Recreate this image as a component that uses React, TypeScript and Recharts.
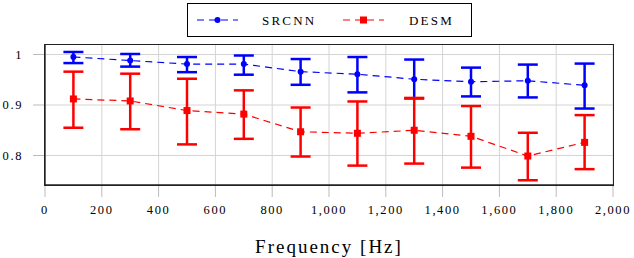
import {
    LineChart,
    Line,
    XAxis,
    YAxis,
    CartesianGrid,
    ErrorBar,
} from "recharts";

const freqs = [100, 300, 500, 700, 900, 1100, 1300, 1500, 1700, 1900];

const srcnn = [0.995, 0.988, 0.981, 0.981, 0.966, 0.961, 0.951, 0.946, 0.948, 0.939];
const srcnnHigh = [1.005, 1.001, 0.995, 0.998, 0.991, 0.995, 0.99, 0.974, 0.98, 0.982];
const srcnnLow = [0.983, 0.976, 0.965, 0.96, 0.94, 0.925, 0.913, 0.917, 0.915, 0.893];

const desm = [0.912, 0.908, 0.889, 0.882, 0.847, 0.844, 0.85, 0.838, 0.799, 0.826];
const desmHigh = [0.966, 0.962, 0.952, 0.929, 0.895, 0.907, 0.914, 0.898, 0.845, 0.88];
const desmLow = [0.855, 0.852, 0.822, 0.833, 0.798, 0.78, 0.784, 0.776, 0.751, 0.773];

const xTicks = [0, 200, 400, 600, 800, 1000, 1200, 1400, 1600, 1800, 2000];
const yTicks = [0.8, 0.9, 1];

const data = freqs.map((f, i) => ({
    freq: f,
    srcnn: srcnn[i],
    srErr: [srcnn[i] - srcnnLow[i], srcnnHigh[i] - srcnn[i]],
    desm: desm[i],
    deErr: [desm[i] - desmLow[i], desmHigh[i] - desm[i]],
}));

const font = '"Liberation Serif", "DejaVu Serif", serif';
const tickStyle = { fontSize: 12.5, fill: "#000", letterSpacing: 1.6 };

const Square = (props: any) => {
    const { cx, cy } = props;
    if (cx == null || cy == null) return null;
    return <rect x={cx - 3.5} y={cy - 3.5} width={7} height={7} fill="#ff0000" />;
};

const LegendBox = () => (
    <div
        style={{
            position: "absolute",
            left: 187,
            top: 3,
            width: 283,
            height: 32,
            border: "1px solid #000",
        }}
    >
        <svg width={283} height={32} style={{ position: "absolute", left: 0, top: 0, fontFamily: font }}>
            <line x1={9} y1={16} x2={50} y2={16} stroke="#0000ff" strokeWidth={1.2} strokeDasharray="7 5" />
            <circle cx={29.5} cy={16} r={3} fill="#0000ff" />
            <text x={74} y={20.5} fontSize={13} letterSpacing={2.2}>SRCNN</text>
            <line x1={155} y1={16} x2={196} y2={16} stroke="#ff0000" strokeWidth={1.2} strokeDasharray="7 5" />
            <rect x={172} y={12.5} width={7} height={7} fill="#ff0000" />
            <text x={221} y={20.5} fontSize={13} letterSpacing={2.2}>DESM</text>
        </svg>
    </div>
);

const App = () => {
    return (
        <div style={{ position: "absolute", left: 0, top: 0, width: 634, height: 258, background: "#fff", fontFamily: font }}>
            <LineChart width={634} height={258} data={data} margin={{ top: 45, right: 21, left: 0, bottom: 0 }} style={{ fontFamily: font }}>
                <CartesianGrid stroke="#d4d4d4" strokeWidth={1} verticalValues={xTicks} horizontalValues={yTicks} />
                <XAxis
                    dataKey="freq"
                    type="number"
                    domain={[0, 2000]}
                    ticks={xTicks}
                    tickFormatter={(v: number) => v.toLocaleString("en-US")}
                    height={73}
                    tickSize={12}
                    tickMargin={8}
                    tick={tickStyle}
                    tickLine={{ stroke: "#bbb" }}
                    axisLine={{ stroke: "#222", strokeWidth: 1.3 }}
                    label={{ value: "Frequency [Hz]", position: "insideBottom", offset: 5, fontSize: 19, letterSpacing: 2, fill: "#000" }}
                />
                <YAxis
                    type="number"
                    domain={[0.7416, 1.0188]}
                    ticks={yTicks}
                    allowDataOverflow
                    width={45}
                    tickSize={12}
                    tickMargin={10}
                    tick={tickStyle}
                    tickLine={{ stroke: "#bbb" }}
                    axisLine={{ stroke: "#222", strokeWidth: 1.3 }}
                />
                <Line
                    dataKey="srcnn"
                    stroke="#0000ff"
                    strokeWidth={1.2}
                    strokeDasharray="7 5"
                    dot={{ r: 3, fill: "#0000ff", stroke: "none" }}
                    isAnimationActive={false}
                >
                    <ErrorBar dataKey="srErr" width={10} strokeWidth={2.5} stroke="#0000ff" direction="y" isAnimationActive={false} />
                </Line>
                <Line
                    dataKey="desm"
                    stroke="#ff0000"
                    strokeWidth={1.2}
                    strokeDasharray="7 5"
                    dot={<Square />}
                    isAnimationActive={false}
                >
                    <ErrorBar dataKey="deErr" width={10} strokeWidth={2.5} stroke="#ff0000" direction="y" isAnimationActive={false} />
                </Line>
            </LineChart>
            {/* plot frame */}
            <div
                style={{
                    position: "absolute",
                    left: 44,
                    top: 44,
                    width: 568,
                    height: 140,
                    border: "1.5px solid #222",
                    pointerEvents: "none",
                }}
            />
            <LegendBox />
        </div>
    );
};

export default App;
